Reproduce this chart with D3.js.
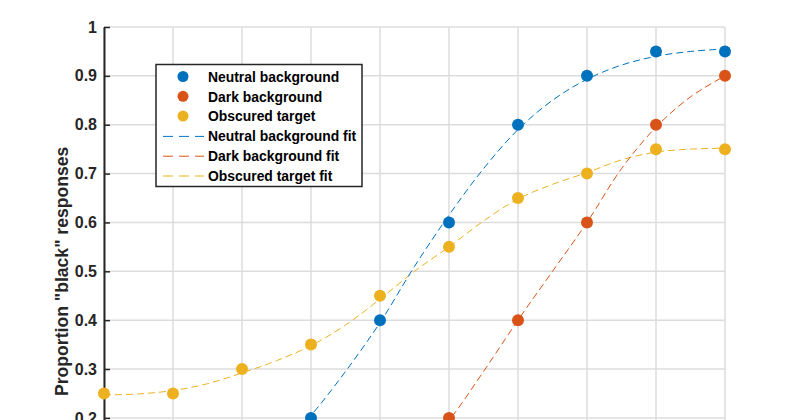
<!DOCTYPE html>
<html><head><meta charset="utf-8">
<script src="https://cdn.jsdelivr.net/npm/d3@7"></script>
<style>body{margin:0;overflow:hidden;background:#fff}svg{display:block;font-family:"Liberation Sans",Arial,sans-serif}</style>
</head><body><div id="c"></div>
<script>
// Data
const xValues = [1,2,3,4,5,6,7,8,9,10];
const neutralX = [4,5,6,7,8,9,10];
const neutral = [0.2,0.4,0.6,0.8,0.9,0.95,0.95];
const darkX = [6,7,8,9,10];
const dark = [0.2,0.4,0.6,0.8,0.9];
const obscuredX = [1,2,3,4,5,6,7,8,9,10];
const obscured = [0.25,0.25,0.3,0.35,0.45,0.55,0.65,0.7,0.75,0.75];
// fitted curves
const neutralFitX = [3.5,4,4.5,5,5.5,6,6.5,7,7.5,8,8.5,9,9.5,10];
const neutralFit = [0.13,0.205,0.295,0.395,0.51,0.615,0.71,0.79,0.85,0.893,0.922,0.94,0.95,0.955];
const darkFitX = [5.5,6,6.5,7,7.5,8,8.5,9,9.5,10];
const darkFit = [0.12,0.195,0.295,0.4,0.5,0.6,0.71,0.795,0.857,0.9];
const obscuredFitX = [1,1.5,2,2.5,3,3.5,4,4.5,5,5.5,6,6.5,7,7.5,8,8.5,9,9.5,10];
const obscuredFit = [0.247,0.249,0.256,0.27,0.292,0.317,0.348,0.39,0.443,0.5,0.55,0.603,0.648,0.678,0.702,0.728,0.744,0.75,0.752];
const yTicks = [0,0.1,0.2,0.3,0.4,0.5,0.6,0.7,0.8,0.9,1];
const legendLabels = ["Neutral background","Dark background","Obscured target","Neutral background fit","Dark background fit","Obscured target fit"];
const colors = ["#0072BD","#D95319","#EDB120"];
const yLabel = 'Proportion "black" responses';

const W=800,H=600;
const svg=d3.select("#c").append("svg").attr("width",W).attr("height",H);
const x=d3.scaleLinear().domain([1,10]).range([104,725]);
const y=d3.scaleLinear().domain([0,1]).range([515.6,27]);

// grid
const g=svg.append("g");
g.selectAll("line.vx").data(xValues).join("line")
 .attr("x1",d=>x(d)).attr("x2",d=>x(d)).attr("y1",y(1)).attr("y2",y(0))
 .attr("stroke","#dcdcdc").attr("stroke-width",1.5);
g.selectAll("line.hy").data(yTicks).join("line")
 .attr("x1",x(1)).attr("x2",x(10)).attr("y1",d=>y(d)).attr("y2",d=>y(d))
 .attr("stroke","#dcdcdc").attr("stroke-width",1.5);

// y axis
const ax=svg.append("g").attr("transform",`translate(${x(1)},0)`)
 .call(d3.axisLeft(y).tickValues(yTicks).tickFormat(d3.format("")).tickSizeInner(-6).tickSizeOuter(0).tickPadding(7));
ax.select(".domain").attr("stroke","#262626").attr("stroke-width",2);
ax.selectAll(".tick line").attr("stroke","#262626").attr("stroke-width",1.5);
ax.selectAll(".tick text").attr("fill","#262626").attr("font-size",16).attr("font-weight","bold")
 .attr("font-family","'Liberation Sans',Arial,sans-serif");

svg.append("text").attr("transform",`translate(68,${(y(0)+y(1))/2}) rotate(-90)`)
 .attr("text-anchor","middle").attr("font-size",17.6).attr("font-weight","bold").attr("fill","#262626").text(yLabel);

const line=d3.line().x(d=>x(d[0])).y(d=>y(d[1])).curve(d3.curveCatmullRom.alpha(0.5));
const fits=[[neutralFitX,neutralFit],[darkFitX,darkFit],[obscuredFitX,obscuredFit]];
const pts=[[neutralX,neutral],[darkX,dark],[obscuredX,obscured]];

const order=[2,0,1];
order.forEach(i=>{
  const [fx,fy]=fits[i];
  svg.append("path").datum(fx.map((v,k)=>[v,fy[k]])).attr("d",line)
   .attr("fill","none").attr("stroke",colors[i]).attr("stroke-width",1).attr("stroke-dasharray","7,4");
});
order.forEach(i=>{
  const [px,py]=pts[i];
  svg.append("g").selectAll("circle").data(px.map((v,k)=>[v,py[k]])).join("circle")
   .attr("cx",d=>x(d[0])).attr("cy",d=>y(d[1])).attr("r",6).attr("fill",colors[i]);
});

// legend
const lg=svg.append("g");
lg.append("rect").attr("x",156).attr("y",64.5).attr("width",206).attr("height",122)
 .attr("fill","#fff").attr("stroke","#262626").attr("stroke-width",1.5);
legendLabels.forEach((t,i)=>{
  const yy=77+i*19.8;
  const c=colors[i%3];
  if(i<3){
    lg.append("circle").attr("cx",183).attr("cy",yy-0.5).attr("r",5.5).attr("fill",c);
  } else {
    lg.append("line").attr("x1",163).attr("x2",204).attr("y1",yy).attr("y2",yy)
      .attr("stroke",c).attr("stroke-width",1).attr("stroke-dasharray","10,6");
  }
  lg.append("text").attr("x",208).attr("y",yy+4.8).attr("font-size",13.9).attr("font-weight","bold")
    .attr("fill","#000").text(t);
});
</script></body></html>
